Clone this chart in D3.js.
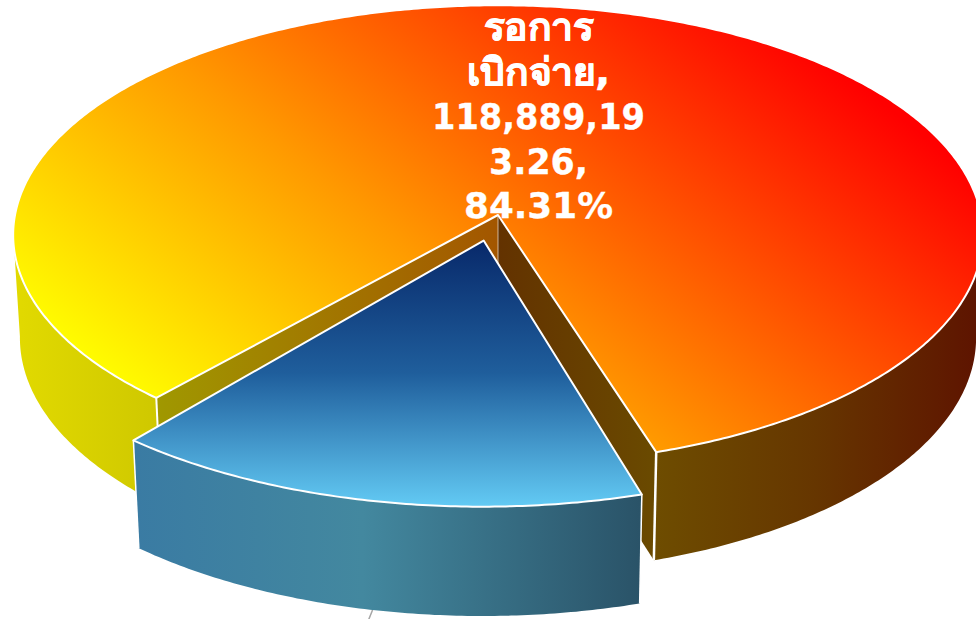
<!DOCTYPE html>
<html>
<head>
<meta charset="utf-8">
<script src="https://cdn.jsdelivr.net/npm/d3@7"></script>
<style>
html, body { margin: 0; padding: 0; background: #fff; overflow: hidden; }
svg { display: block; }
</style>
</head>
<body>
<script>
const categories = ['รอการเบิกจ่าย', 'เบิกจ่ายแล้ว'];
const values = [118889193.26, 22123964.0];
const labelLines = ['รอการ', 'เบิกจ่าย,', '118,889,19', '3.26,', '84.31%'];

const width = 976, height = 619;
const cx = 498, cy = 215;          // apex of the main slice on screen
const radiusX = 483, radiusY = 228, depth = 104;
const persp = 0.087, perspZ = 0.014;
const explode = 0.115;
const blueScale = 1.04;            // the exploded slice looks bigger, it is nearer
const deg = Math.PI / 180;
const startAngle = 219.8 * deg;
const silhouette = 0.08;           // the side walls stop where the outline is tangent

const svg = d3.select('body').append('svg')
    .attr('width', width)
    .attr('height', height)
    .attr('viewBox', `0 0 ${width} ${height}`);

const defs = svg.append('defs');

function gradient(id, x1, y1, x2, y2, stops) {
    const g = defs.append('linearGradient')
        .attr('id', id)
        .attr('gradientUnits', 'userSpaceOnUse')
        .attr('x1', x1).attr('y1', y1).attr('x2', x2).attr('y2', y2);
    g.selectAll('stop').data(stops).enter().append('stop')
        .attr('offset', d => d[0])
        .attr('stop-color', d => d[1]);
}

gradient('mainTop', 90, 370, 527, -180, [[0, '#ffff00'], [0.42, '#ff9900'], [1, '#ff0000']]);
gradient('leftWall', 13, 0, 158, 0, [[0, '#e2da00'], [1, '#cfc800']]);
gradient('rightWall', 652, 0, 976, 0, [[0, '#6e4d00'], [0.5, '#663600'], [1, '#5e1400']]);
gradient('innerLeft', 158, 0, 498, 0, [[0, '#a09800'], [1, '#a35600']]);
gradient('innerRight', 498, 0, 655, 0, [[0, '#633200'], [1, '#6a4a00']]);
gradient('blueTop', 0, 241, 0, 505, [[0, '#08296a'], [0.5, '#1f5e9c'], [1, '#62c9f3']]);
gradient('blueWall', 135, 0, 640, 0, [[0, '#3a7ba3'], [0.45, '#43889f'], [1, '#2a5368']]);

// disc point (u along x, v towards the viewer, z 0 top / 1 bottom) to screen
function project(u, v, z) {
    const w = 1 - persp * v + perspZ * z;
    return [cx + radiusX * u / w, cy + (radiusY * v + depth * z) / w];
}

const line = d3.line();

function rimPoint(a, off, z) {
    return project(off.u + off.r * Math.sin(a), off.v - off.r * Math.cos(a), z);
}

function arcPoints(a0, a1, off, z) {
    const n = Math.max(2, Math.ceil(Math.abs(a1 - a0) / 0.01));
    return d3.range(n + 1).map(i => rimPoint(a0 + (a1 - a0) * i / n, off, z));
}

function topPath(a0, a1, off) {
    return line([project(off.u, off.v, 0)].concat(arcPoints(a0, a1, off, 0))) + 'Z';
}

function wallPath(a0, a1, off) {
    return line(arcPoints(a0, a1, off, 0).concat(arcPoints(a1, a0, off, 1))) + 'Z';
}

function sidePath(a, off) {
    return line([
        project(off.u, off.v, 0), rimPoint(a, off, 0),
        rimPoint(a, off, 1), project(off.u, off.v, 1)
    ]) + 'Z';
}

function edge(a, off) {
    return line([rimPoint(a, off, 0), rimPoint(a, off, 1)]);
}

const pie = d3.pie().sort(null).startAngle(startAngle).endAngle(startAngle + 2 * Math.PI);
const arcs = pie(values);
const main = arcs[0], other = arcs[1];
const mainStart = main.startAngle + 1.6 * deg, mainEnd = main.endAngle - 0.8 * deg;

const noOff = { u: 0, v: 0, r: 1 };
const mid = (other.startAngle + other.endAngle) / 2;
const blueOff = {
    u: explode * Math.sin(mid + 0.057),
    v: -explode * Math.cos(mid + 0.057),
    r: blueScale
};

function face(path, fill) {
    return svg.append('path').attr('d', path).attr('fill', fill);
}
function whiteLine(path, w) {
    return svg.append('path').attr('d', path).attr('fill', 'none')
        .attr('stroke', '#fff').attr('stroke-width', w);
}

// main slice: outer walls, cut walls, then the top
face(wallPath(mainStart, 1.5 * Math.PI - silhouette, noOff), 'url(#leftWall)');
face(wallPath(2.5 * Math.PI + silhouette, mainEnd, noOff), 'url(#rightWall)');
face(sidePath(mainStart, noOff), 'url(#innerLeft)');
face(sidePath(mainEnd, noOff), 'url(#innerRight)');
whiteLine(edge(mainStart, noOff), 2);
whiteLine(edge(mainEnd, noOff), 2.5);
whiteLine(line([project(0, 0, 0), project(0, 0, 1)]), 1).attr('stroke-opacity', 0.6);
face(topPath(mainStart, mainEnd, noOff), 'url(#mainTop)')
    .attr('stroke', '#fff').attr('stroke-width', 2).attr('stroke-linejoin', 'round');

// grey leader line of the hidden small label
const leaderStart = rimPoint(mid, blueOff, 1);
svg.append('path')
    .attr('d', line([leaderStart, [leaderStart[0] - 4, leaderStart[1] + 10]]))
    .attr('stroke', '#a6a6a6').attr('stroke-width', 1.5).attr('fill', 'none');

// exploded slice
face(wallPath(other.startAngle, other.endAngle, blueOff), 'url(#blueWall)');
whiteLine(edge(other.startAngle, blueOff), 1.5);
whiteLine(edge(other.endAngle, blueOff), 1.5);
face(topPath(other.startAngle, other.endAngle, blueOff), 'url(#blueTop)')
    .attr('stroke', '#fff').attr('stroke-width', 2).attr('stroke-linejoin', 'round');

// data label, the Thai fallback font needs its own size and some extra weight
const labelX = 538.5, labelY = 40, lineGap = 44.5;
const labelWidths = [110, 143, 213, 99, 149];
svg.append('g').selectAll('text').data(labelLines).enter().append('text')
    .attr('text-anchor', 'middle')
    .attr('x', labelX)
    .attr('y', (d, i) => labelY + i * lineGap)
    .attr('textLength', (d, i) => labelWidths[i])
    .attr('lengthAdjust', 'spacingAndGlyphs')
    .attr('font-family', '"DejaVu Sans", "Noto Sans", sans-serif')
    .attr('font-weight', 'bold')
    .attr('font-size', (d, i) => i < 2 ? 38 : 36)
    .attr('fill', '#fff')
    .attr('stroke', '#fff')
    .attr('stroke-width', (d, i) => i < 2 ? 0.7 : 0.3)
    .text(d => d);
</script>
</body>
</html>
